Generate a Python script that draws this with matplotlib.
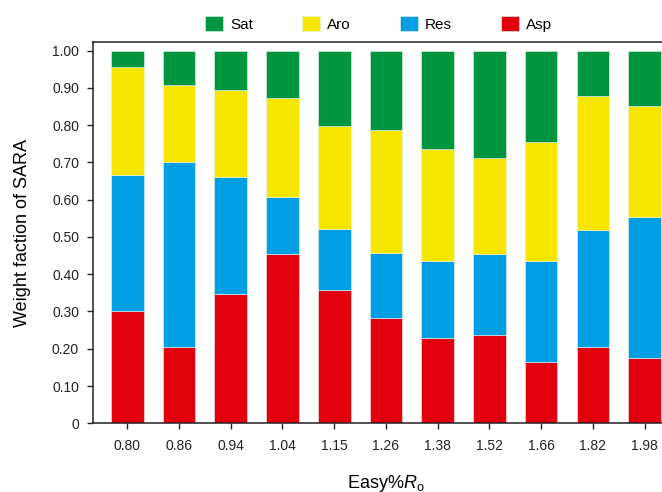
import matplotlib
matplotlib.use('Agg')
import numpy as np
import matplotlib.pyplot as plt
from matplotlib.ticker import FuncFormatter

plt.rcParams['font.family'] = ['Liberation Sans', 'DejaVu Sans']
plt.rcParams['mathtext.fontset'] = 'custom'
plt.rcParams['mathtext.rm'] = 'Liberation Sans'
plt.rcParams['mathtext.it'] = 'Liberation Sans:italic'

# vitrinite reflectance (Easy%Ro) categories
ro_labels = ['0.80', '0.86', '0.94', '1.04', '1.15', '1.26', '1.38', '1.52', '1.66', '1.82', '1.98']

# SARA weight fractions
asp = [0.300, 0.206, 0.348, 0.454, 0.358, 0.282, 0.229, 0.236, 0.164, 0.206, 0.175]
res = [0.365, 0.496, 0.312, 0.152, 0.164, 0.176, 0.206, 0.218, 0.271, 0.313, 0.378]
aro = [0.290, 0.207, 0.233, 0.268, 0.275, 0.328, 0.301, 0.259, 0.320, 0.359, 0.298]
sat = [0.045, 0.091, 0.107, 0.126, 0.203, 0.214, 0.264, 0.287, 0.245, 0.122, 0.149]

colors = {'Sat': '#00963f', 'Aro': '#f7e600', 'Res': '#009fe3', 'Asp': '#e2000f'}

fig = plt.figure(figsize=(6.62, 4.92), dpi=100)
ax = fig.add_axes([0.1405, 0.1396, 0.885, 0.775])

x = np.arange(len(ro_labels))
w = 0.63
bottom = np.zeros(len(x))
handles = {}
for name, vals in [('Asp', asp), ('Res', res), ('Aro', aro), ('Sat', sat)]:
    handles[name] = ax.bar(x, vals, w, bottom=bottom, color=colors[name],
                           edgecolor='#e8f4ec', linewidth=0.4, label=name)
    bottom += np.array(vals)

ax.set_xlim(-0.662, len(x) - 1 + 0.662)
ax.set_ylim(0, 1.023)
ax.set_yticks(np.arange(0, 1.01, 0.1))
ax.yaxis.set_major_formatter(FuncFormatter(lambda v, p: '0' if abs(v) < 1e-9 else f'{v:.2f}'))
ax.set_xticks(x)
ax.set_xticklabels(ro_labels)

for s in ['left', 'bottom', 'top']:
    ax.spines[s].set_linewidth(1.1)
    ax.spines[s].set_color('#222222')
ax.spines['right'].set_visible(False)
ax.tick_params(axis='both', direction='out', length=4, width=1, labelsize=10,
               colors='#222222', pad=6)
ax.tick_params(axis='x', pad=7)

ax.set_ylabel('Weight faction of SARA', fontsize=13, labelpad=15)
ax.set_xlabel('Easy%$\\mathit{R}_\\mathrm{o}$', fontsize=13, labelpad=15)

order = ['Sat', 'Aro', 'Res', 'Asp']
fig.legend([handles[n] for n in order], order, loc='center', bbox_to_anchor=(0.572, 0.952),
           ncol=4, frameon=False, fontsize=11, handlelength=1.2, handleheight=1.2,
           handletextpad=0.45, columnspacing=3.2)

fig.savefig('out.png', dpi=100)
